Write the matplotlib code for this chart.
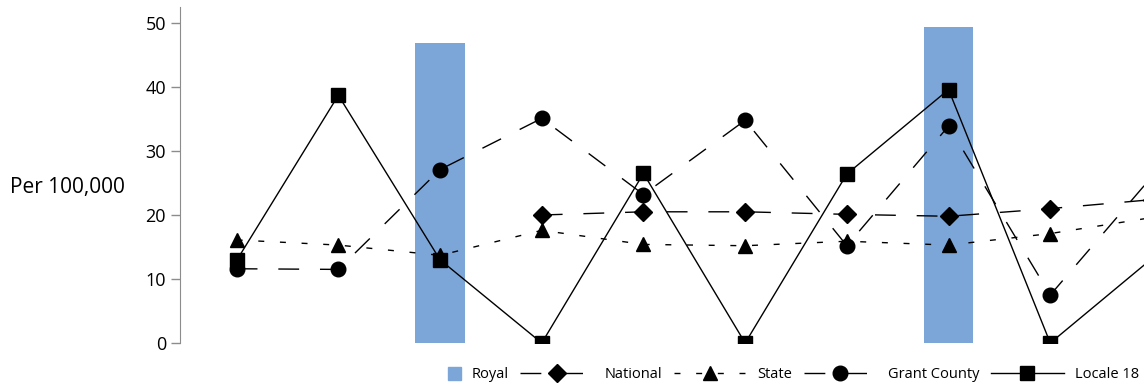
import numpy as np
import matplotlib
matplotlib.use("Agg")
import matplotlib.pyplot as plt
import matplotlib.patches as mpatches
from matplotlib.legend_handler import HandlerPatch

plt.rcParams['font.family'] = ['Open Sans', 'DejaVu Sans']

nan = np.nan
x = np.arange(10)
royal = [nan, nan, 46.9, nan, nan, nan, nan, 49.3, nan, nan]
national = [nan, nan, nan, 20.0, 20.5, 20.5, 20.1, 19.8, 21.0, 22.4]
state = [16.1, 15.3, 13.7, 17.6, 15.4, 15.2, 15.9, 15.3, 17.1, 19.6]
grant = [11.6, 11.5, 27.1, 35.1, 23.2, 34.8, 15.2, 33.9, 7.5, 26.0]
locale = [12.9, 38.7, 13.0, 0, 26.5, 0, 26.4, 39.6, 0, 13.2]

blue = '#7da6d8'
gray = '#8c8c8c'

fig = plt.figure(figsize=(11.44, 3.86), dpi=100)
ax = fig.add_axes([180/1144, 43/386, 1033/1144, 336/386])

ax.bar(x, royal, width=0.49, color=blue, zorder=1)
ax.plot(x, national, color='black', lw=1.0, ls=(0, (15, 15)),
        marker='D', ms=9.5, zorder=3, label='National')
ax.plot(x, state, color='black', lw=1.0, ls=(0, (4.3, 11.3)),
        marker='^', ms=10.5, zorder=4, label='State')
ax.plot(x, grant, color='black', lw=1.0, ls=(0, (15, 15)),
        marker='o', ms=10.5, zorder=5, label='Grant County')
ax.plot(x, locale, color='black', lw=1.0, ls='-',
        marker='s', ms=9.5, zorder=6, label='Locale 18')

ax.set_xlim(-0.557, 9.6)
ax.set_ylim(0, 52.5)
ax.set_yticks([0, 10, 20, 30, 40, 50])
ax.set_xticks([])
for s in ['top', 'right', 'bottom']:
    ax.spines[s].set_visible(False)
ax.spines['left'].set_color(gray)
ax.tick_params(axis='y', direction='out', length=6.5, width=1, color=gray,
               pad=3.5, labelsize=13)
ax.set_ylabel('Per 100,000', rotation=0, fontsize=15, ha='right', va='center')
ax.yaxis.set_label_coords(-0.0535, 0.464)


def royal_box(legend, orig_handle, xdescent, ydescent, width, height, fontsize):
    side = 9.5
    return mpatches.Rectangle((width - side - xdescent, (height - side) / 2 - ydescent),
                              side, side)


royal_proxy = mpatches.Patch(color=blue)
handles = [royal_proxy] + ax.get_lines()
labels = ['Royal', 'National', 'State', 'Grant County', 'Locale 18']
fig.legend(handles, labels, loc='center left', bbox_to_anchor=(0.339, 0.0285),
           ncol=5, frameon=False, borderpad=0, borderaxespad=0,
           handlelength=5, handletextpad=0.75, columnspacing=0.8, fontsize=10.5,
           handler_map={royal_proxy: HandlerPatch(patch_func=royal_box)})

fig.savefig('out.png', dpi=100)
